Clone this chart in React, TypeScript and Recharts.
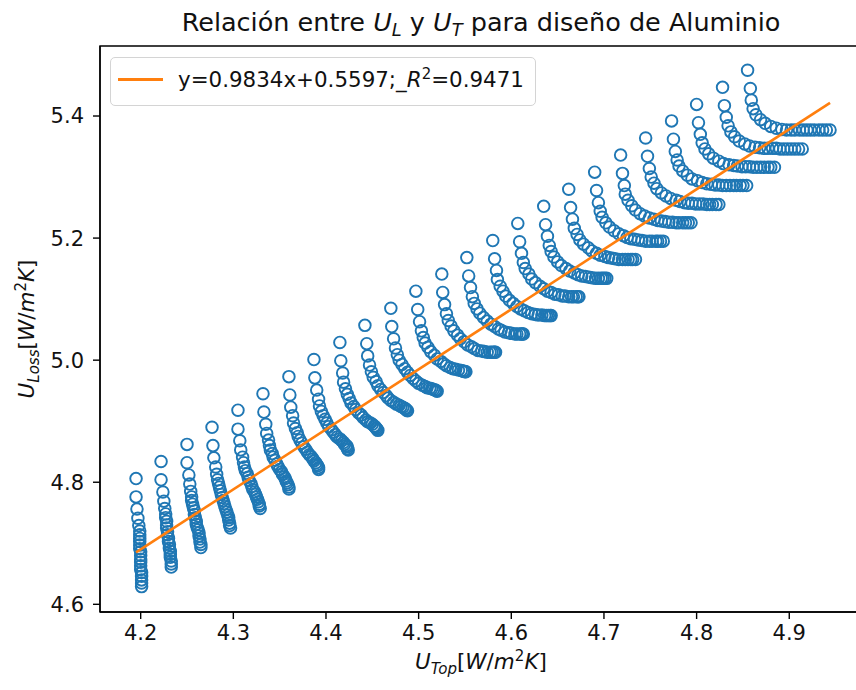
import React from 'react';
import { ScatterChart, Scatter, XAxis, YAxis, ReferenceArea } from 'recharts';

// U_Top (x) and U_Loss (y) per sweep; each sweep is one hooked column of rings
const arc00x = [4.195, 4.195, 4.196, 4.197, 4.198, 4.199, 4.199, 4.199, 4.199, 4.199, 4.199, 4.200, 4.200, 4.200, 4.200, 4.200, 4.200, 4.201, 4.201, 4.201, 4.201, 4.201];
const arc00y = [4.806, 4.776, 4.756, 4.741, 4.729, 4.720, 4.714, 4.708, 4.703, 4.697, 4.691, 4.686, 4.680, 4.674, 4.669, 4.663, 4.657, 4.652, 4.646, 4.640, 4.635, 4.629];
const arc01x = [4.222, 4.222, 4.224, 4.225, 4.226, 4.227, 4.227, 4.228, 4.228, 4.228, 4.229, 4.229, 4.230, 4.230, 4.231, 4.231, 4.232, 4.232, 4.232, 4.233, 4.233, 4.233];
const arc01y = [4.834, 4.804, 4.784, 4.769, 4.757, 4.748, 4.742, 4.736, 4.730, 4.725, 4.719, 4.714, 4.708, 4.703, 4.698, 4.692, 4.687, 4.682, 4.677, 4.671, 4.666, 4.661];
const arc02x = [4.250, 4.250, 4.252, 4.253, 4.254, 4.255, 4.255, 4.256, 4.257, 4.258, 4.258, 4.259, 4.260, 4.260, 4.261, 4.262, 4.263, 4.263, 4.264, 4.264, 4.265, 4.265];
const arc02y = [4.862, 4.832, 4.812, 4.797, 4.785, 4.776, 4.770, 4.764, 4.758, 4.753, 4.747, 4.742, 4.736, 4.731, 4.726, 4.722, 4.717, 4.712, 4.707, 4.702, 4.698, 4.693];
const arc03x = [4.277, 4.278, 4.279, 4.281, 4.282, 4.283, 4.284, 4.285, 4.286, 4.287, 4.288, 4.289, 4.290, 4.291, 4.292, 4.293, 4.294, 4.295, 4.295, 4.296, 4.296, 4.297];
const arc03y = [4.890, 4.860, 4.840, 4.825, 4.813, 4.804, 4.798, 4.792, 4.786, 4.780, 4.775, 4.770, 4.765, 4.760, 4.755, 4.751, 4.746, 4.742, 4.738, 4.733, 4.729, 4.725];
const arc04x = [4.305, 4.305, 4.307, 4.308, 4.310, 4.311, 4.312, 4.313, 4.315, 4.316, 4.317, 4.319, 4.320, 4.321, 4.323, 4.324, 4.325, 4.326, 4.327, 4.328, 4.328, 4.329];
const arc04y = [4.918, 4.887, 4.868, 4.853, 4.841, 4.832, 4.825, 4.819, 4.814, 4.808, 4.803, 4.798, 4.793, 4.788, 4.784, 4.780, 4.776, 4.772, 4.768, 4.764, 4.761, 4.757];
const arc05x = [4.332, 4.333, 4.335, 4.336, 4.338, 4.339, 4.340, 4.342, 4.343, 4.345, 4.347, 4.348, 4.350, 4.352, 4.353, 4.355, 4.356, 4.357, 4.358, 4.359, 4.360, 4.360];
const arc05y = [4.945, 4.915, 4.895, 4.880, 4.869, 4.860, 4.853, 4.847, 4.841, 4.836, 4.830, 4.826, 4.821, 4.817, 4.813, 4.809, 4.806, 4.802, 4.799, 4.796, 4.792, 4.789];
const arc06x = [4.360, 4.361, 4.362, 4.364, 4.365, 4.367, 4.369, 4.370, 4.372, 4.374, 4.376, 4.378, 4.380, 4.382, 4.384, 4.386, 4.387, 4.389, 4.390, 4.391, 4.392, 4.392];
const arc06y = [4.973, 4.943, 4.923, 4.909, 4.897, 4.888, 4.881, 4.875, 4.869, 4.864, 4.858, 4.854, 4.849, 4.845, 4.842, 4.838, 4.835, 4.832, 4.829, 4.827, 4.824, 4.821];
const arc07x = [4.387, 4.388, 4.390, 4.392, 4.393, 4.395, 4.397, 4.399, 4.401, 4.403, 4.406, 4.408, 4.410, 4.412, 4.415, 4.417, 4.419, 4.420, 4.422, 4.423, 4.423, 4.424];
const arc07y = [5.001, 4.971, 4.951, 4.936, 4.925, 4.916, 4.909, 4.903, 4.897, 4.891, 4.886, 4.882, 4.878, 4.874, 4.871, 4.868, 4.865, 4.862, 4.860, 4.858, 4.855, 4.853];
const arc08x = [4.415, 4.416, 4.418, 4.419, 4.421, 4.423, 4.425, 4.427, 4.430, 4.432, 4.435, 4.438, 4.440, 4.443, 4.445, 4.448, 4.450, 4.452, 4.453, 4.454, 4.455, 4.456];
const arc08y = [5.029, 4.999, 4.979, 4.964, 4.953, 4.944, 4.937, 4.930, 4.924, 4.919, 4.914, 4.910, 4.906, 4.902, 4.899, 4.897, 4.895, 4.892, 4.891, 4.889, 4.887, 4.885];
const arc09x = [4.442, 4.444, 4.445, 4.447, 4.449, 4.451, 4.454, 4.456, 4.459, 4.462, 4.465, 4.467, 4.470, 4.473, 4.476, 4.479, 4.481, 4.483, 4.485, 4.486, 4.487, 4.488];
const arc09y = [5.057, 5.027, 5.007, 4.992, 4.981, 4.972, 4.965, 4.958, 4.952, 4.947, 4.942, 4.938, 4.934, 4.931, 4.928, 4.926, 4.924, 4.923, 4.921, 4.920, 4.918, 4.917];
const arc10x = [4.470, 4.471, 4.473, 4.475, 4.477, 4.479, 4.482, 4.485, 4.488, 4.491, 4.494, 4.497, 4.500, 4.504, 4.507, 4.509, 4.512, 4.514, 4.516, 4.518, 4.519, 4.520];
const arc10y = [5.085, 5.055, 5.035, 5.020, 5.009, 5.000, 4.993, 4.986, 4.980, 4.975, 4.970, 4.966, 4.962, 4.959, 4.957, 4.955, 4.954, 4.953, 4.952, 4.951, 4.950, 4.949];
const arc11x = [4.497, 4.499, 4.501, 4.503, 4.505, 4.507, 4.510, 4.513, 4.517, 4.520, 4.524, 4.527, 4.530, 4.534, 4.537, 4.540, 4.543, 4.546, 4.548, 4.549, 4.550, 4.551];
const arc11y = [5.113, 5.083, 5.063, 5.048, 5.037, 5.028, 5.021, 5.014, 5.008, 5.002, 4.998, 4.994, 4.991, 4.988, 4.986, 4.985, 4.984, 4.983, 4.982, 4.982, 4.981, 4.981];
const arc12x = [4.525, 4.526, 4.528, 4.530, 4.532, 4.535, 4.538, 4.542, 4.545, 4.549, 4.553, 4.557, 4.560, 4.564, 4.568, 4.571, 4.574, 4.577, 4.579, 4.581, 4.582, 4.583];
const arc12y = [5.141, 5.111, 5.091, 5.076, 5.065, 5.056, 5.048, 5.041, 5.035, 5.030, 5.025, 5.022, 5.019, 5.016, 5.015, 5.014, 5.013, 5.013, 5.013, 5.013, 5.013, 5.013];
const arc13x = [4.552, 4.554, 4.556, 4.558, 4.560, 4.563, 4.566, 4.570, 4.574, 4.578, 4.582, 4.586, 4.589, 4.593, 4.597, 4.600, 4.604, 4.606, 4.609, 4.611, 4.612, 4.613];
const arc13y = [5.168, 5.138, 5.119, 5.104, 5.093, 5.084, 5.077, 5.070, 5.064, 5.059, 5.055, 5.051, 5.049, 5.046, 5.045, 5.044, 5.043, 5.043, 5.043, 5.043, 5.043, 5.043];
const arc14x = [4.580, 4.582, 4.584, 4.585, 4.588, 4.591, 4.594, 4.598, 4.602, 4.606, 4.610, 4.614, 4.618, 4.622, 4.626, 4.629, 4.633, 4.636, 4.638, 4.640, 4.642, 4.643];
const arc14y = [5.196, 5.166, 5.147, 5.132, 5.121, 5.113, 5.105, 5.098, 5.093, 5.088, 5.084, 5.081, 5.078, 5.076, 5.075, 5.074, 5.074, 5.073, 5.073, 5.073, 5.073, 5.073];
const arc15x = [4.607, 4.609, 4.611, 4.613, 4.615, 4.619, 4.622, 4.626, 4.631, 4.635, 4.639, 4.643, 4.647, 4.651, 4.655, 4.658, 4.662, 4.665, 4.667, 4.670, 4.672, 4.673];
const arc15y = [5.224, 5.194, 5.175, 5.160, 5.150, 5.141, 5.133, 5.127, 5.121, 5.117, 5.113, 5.111, 5.108, 5.107, 5.105, 5.105, 5.104, 5.104, 5.104, 5.104, 5.104, 5.104];
const arc16x = [4.635, 4.637, 4.639, 4.641, 4.643, 4.646, 4.650, 4.654, 4.659, 4.663, 4.668, 4.672, 4.676, 4.680, 4.684, 4.687, 4.691, 4.694, 4.697, 4.699, 4.701, 4.703];
const arc16y = [5.252, 5.222, 5.203, 5.188, 5.178, 5.169, 5.161, 5.155, 5.150, 5.146, 5.143, 5.140, 5.138, 5.137, 5.136, 5.135, 5.134, 5.134, 5.134, 5.134, 5.134, 5.134];
const arc17x = [4.662, 4.664, 4.666, 4.668, 4.671, 4.674, 4.678, 4.683, 4.687, 4.692, 4.696, 4.701, 4.705, 4.709, 4.712, 4.716, 4.720, 4.723, 4.726, 4.729, 4.731, 4.734];
const arc17y = [5.280, 5.250, 5.231, 5.216, 5.206, 5.197, 5.190, 5.184, 5.179, 5.175, 5.172, 5.170, 5.168, 5.167, 5.166, 5.165, 5.165, 5.165, 5.165, 5.165, 5.165, 5.165];
const arc18x = [4.690, 4.692, 4.694, 4.696, 4.698, 4.702, 4.706, 4.711, 4.716, 4.721, 4.725, 4.729, 4.733, 4.737, 4.741, 4.745, 4.749, 4.752, 4.756, 4.758, 4.761, 4.764];
const arc18y = [5.308, 5.278, 5.258, 5.244, 5.234, 5.225, 5.218, 5.212, 5.207, 5.204, 5.201, 5.199, 5.198, 5.197, 5.196, 5.195, 5.195, 5.195, 5.195, 5.195, 5.195, 5.195];
const arc19x = [4.718, 4.720, 4.722, 4.723, 4.726, 4.730, 4.734, 4.739, 4.744, 4.749, 4.754, 4.758, 4.762, 4.766, 4.770, 4.774, 4.778, 4.781, 4.785, 4.788, 4.791, 4.794];
const arc19y = [5.336, 5.306, 5.286, 5.272, 5.262, 5.253, 5.246, 5.240, 5.236, 5.233, 5.231, 5.229, 5.228, 5.227, 5.226, 5.226, 5.225, 5.225, 5.225, 5.225, 5.225, 5.225];
const arc20x = [4.745, 4.747, 4.749, 4.751, 4.754, 4.757, 4.762, 4.767, 4.772, 4.778, 4.782, 4.787, 4.791, 4.795, 4.799, 4.803, 4.807, 4.811, 4.814, 4.817, 4.821, 4.824];
const arc20y = [5.364, 5.334, 5.314, 5.300, 5.290, 5.281, 5.274, 5.269, 5.265, 5.262, 5.260, 5.258, 5.257, 5.257, 5.256, 5.256, 5.256, 5.255, 5.255, 5.255, 5.255, 5.255];
const arc21x = [4.773, 4.775, 4.777, 4.779, 4.781, 4.785, 4.790, 4.795, 4.801, 4.806, 4.811, 4.816, 4.820, 4.824, 4.828, 4.832, 4.836, 4.840, 4.843, 4.847, 4.850, 4.854];
const arc21y = [5.392, 5.362, 5.342, 5.328, 5.318, 5.310, 5.303, 5.297, 5.294, 5.291, 5.289, 5.288, 5.287, 5.287, 5.286, 5.286, 5.286, 5.286, 5.286, 5.286, 5.286, 5.286];
const arc22x = [4.800, 4.802, 4.804, 4.806, 4.809, 4.813, 4.818, 4.824, 4.829, 4.835, 4.840, 4.844, 4.849, 4.853, 4.857, 4.861, 4.865, 4.869, 4.873, 4.877, 4.880, 4.884];
const arc22y = [5.419, 5.389, 5.370, 5.356, 5.346, 5.338, 5.331, 5.326, 5.322, 5.320, 5.319, 5.318, 5.317, 5.317, 5.317, 5.316, 5.316, 5.316, 5.316, 5.316, 5.316, 5.316];
const arc23x = [4.828, 4.830, 4.832, 4.834, 4.837, 4.841, 4.846, 4.852, 4.857, 4.863, 4.868, 4.873, 4.877, 4.882, 4.886, 4.890, 4.894, 4.898, 4.902, 4.906, 4.910, 4.914];
const arc23y = [5.447, 5.417, 5.398, 5.384, 5.374, 5.366, 5.359, 5.354, 5.351, 5.349, 5.348, 5.347, 5.347, 5.347, 5.347, 5.346, 5.346, 5.346, 5.346, 5.346, 5.346, 5.346];
const arc24x = [4.855, 4.858, 4.859, 4.861, 4.864, 4.869, 4.874, 4.880, 4.886, 4.892, 4.897, 4.902, 4.906, 4.911, 4.915, 4.919, 4.923, 4.927, 4.932, 4.936, 4.940, 4.944];
const arc24y = [5.475, 5.445, 5.426, 5.412, 5.402, 5.394, 5.388, 5.383, 5.380, 5.378, 5.377, 5.377, 5.377, 5.377, 5.377, 5.377, 5.377, 5.377, 5.377, 5.377, 5.377, 5.377];

// linear fit shown in the legend
const slope = 0.9834;
const intercept = 0.5597;
const rSquared = 0.9471;

const xTicks = [4.2, 4.3, 4.4, 4.5, 4.6, 4.7, 4.8, 4.9];
const yTicks = [4.6, 4.8, 5.0, 5.2, 5.4];
const xDomain = [4.1561, 4.9785];
const yDomain = [4.5874, 5.5147];

const arcs = [
  [arc00x, arc00y], [arc01x, arc01y], [arc02x, arc02y], [arc03x, arc03y], [arc04x, arc04y],
  [arc05x, arc05y], [arc06x, arc06y], [arc07x, arc07y], [arc08x, arc08y], [arc09x, arc09y],
  [arc10x, arc10y], [arc11x, arc11y], [arc12x, arc12y], [arc13x, arc13y], [arc14x, arc14y],
  [arc15x, arc15y], [arc16x, arc16y], [arc17x, arc17y], [arc18x, arc18y], [arc19x, arc19y],
  [arc20x, arc20y], [arc21x, arc21y], [arc22x, arc22y], [arc23x, arc23y], [arc24x, arc24y],
];

const points = arcs.flatMap(([xs, ys]) => xs.map((x, i) => ({ x, y: ys[i] })));
const allX = points.map((p) => p.x);
const fitLine = [Math.min(...allX), Math.max(...allX)].map((x) => ({ x, y: slope * x + intercept }));

const BLUE = '#1f77b4';
const ORANGE = '#ff7f0e';
const FONT = "'DejaVu Sans', sans-serif";

// hollow marker like matplotlib's facecolors='none'
const Ring = (props: any) => (
  <circle cx={props.cx} cy={props.cy} r={5.8} fill="none" stroke={BLUE} strokeWidth={1.9} />
);

const NoDot = () => <g />;

const tickStyle = { fill: '#111', fontSize: 21, fontFamily: FONT };
const axisStroke = { stroke: '#000', strokeWidth: 1.4 };

const sub = { fontSize: '0.7em', verticalAlign: '-0.3em', lineHeight: 0 } as const;
const sup = { fontSize: '0.7em', verticalAlign: '0.55em', lineHeight: 0 } as const;

const App: React.FC = () => {
  return (
    <div
      style={{
        position: 'absolute',
        left: 0,
        top: 0,
        width: 856,
        height: 690,
        overflow: 'hidden',
        background: '#fff',
        fontFamily: FONT,
        color: '#111',
      }}
    >
      <ScatterChart width={880} height={690} margin={{ top: 46, right: 18, bottom: 38, left: 40 }}>
        <XAxis
          type="number"
          dataKey="x"
          domain={xDomain}
          ticks={xTicks}
          interval={0}
          allowDataOverflow
          height={40}
          tickSize={7}
          tickMargin={6}
          tick={tickStyle}
          tickFormatter={(v: number) => v.toFixed(1)}
          axisLine={axisStroke}
          tickLine={axisStroke}
        />
        <YAxis
          type="number"
          dataKey="y"
          domain={yDomain}
          ticks={yTicks}
          interval={0}
          allowDataOverflow
          width={60}
          tickSize={7}
          tickMargin={9}
          tick={tickStyle}
          tickFormatter={(v: number) => v.toFixed(1)}
          axisLine={axisStroke}
          tickLine={axisStroke}
        />
        <ReferenceArea
          x1={xDomain[0]}
          x2={xDomain[1]}
          y1={yDomain[0]}
          y2={yDomain[1]}
          fill="none"
          stroke="#000"
          strokeWidth={1.4}
        />
        <Scatter data={points} shape={Ring} isAnimationActive={false} />
        <Scatter
          data={fitLine}
          line={{ stroke: ORANGE, strokeWidth: 2.6 }}
          shape={NoDot}
          isAnimationActive={false}
        />
      </ScatterChart>

      {/* title */}
      <div
        style={{
          position: 'absolute',
          left: 100,
          width: 762,
          top: 8,
          textAlign: 'center',
          fontSize: 25.5,
          lineHeight: '28px',
          whiteSpace: 'nowrap',
        }}
      >
        Relación entre <i>U</i>
        <span style={sub}><i>L</i></span> y <i>U</i>
        <span style={sub}><i>T</i></span> para diseño de Aluminio
      </div>

      {/* legend */}
      <div
        style={{
          position: 'absolute',
          left: 110,
          top: 57,
          width: 426,
          height: 49,
          boxSizing: 'border-box',
          border: '1.5px solid #d4d4d4',
          borderRadius: 5,
          background: 'rgba(255,255,255,0.8)',
        }}
      >
        <div style={{ position: 'absolute', left: 7, top: 20, width: 45, height: 2.6, background: ORANGE }} />
        <div
          style={{
            position: 'absolute',
            left: 67,
            top: 8,
            fontSize: 21.4,
            lineHeight: '28px',
            whiteSpace: 'nowrap',
          }}
        >
          {`y=${slope}x+${intercept};_`}
          <i>R</i>
          <span style={sup}>2</span>
          {`=${rSquared}`}
        </div>
      </div>

      {/* x axis label */}
      <div
        style={{
          position: 'absolute',
          left: 100,
          width: 762,
          top: 649,
          textAlign: 'center',
          fontSize: 21.5,
          lineHeight: '26px',
          whiteSpace: 'nowrap',
        }}
      >
        <i>U</i>
        <span style={sub}><i>Top</i></span>[<i>W</i>/<i>m</i>
        <span style={sup}>2</span>
        <i>K</i>]
      </div>

      {/* y axis label */}
      <div
        style={{
          position: 'absolute',
          left: 27,
          top: 329,
          transform: 'translate(-50%, -50%) rotate(-90deg)',
          fontSize: 21.5,
          lineHeight: '26px',
          whiteSpace: 'nowrap',
        }}
      >
        <i>U</i>
        <span style={sub}><i>Loss</i></span>[<i>W</i>/<i>m</i>
        <span style={sup}>2</span>
        <i>K</i>]
      </div>
    </div>
  );
};

export default App;
